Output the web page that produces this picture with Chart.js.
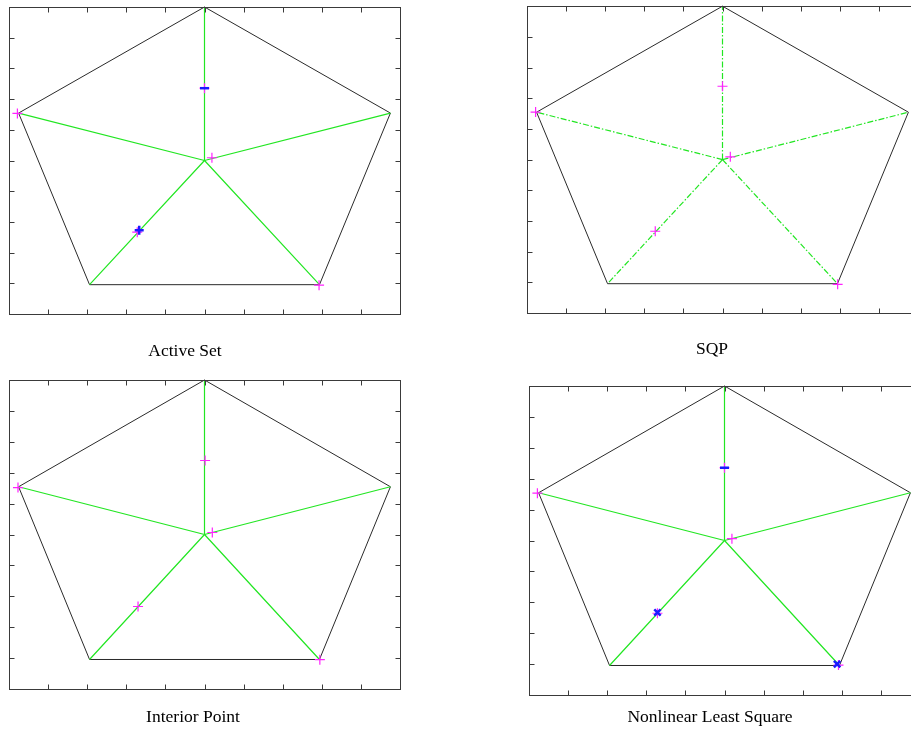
<!DOCTYPE html>
<html>
<head>
<meta charset="utf-8">
<script src="https://cdn.jsdelivr.net/npm/chart.js@4/dist/chart.umd.min.js"></script>
<style>
  html, body { margin: 0; padding: 0; background: #fff; width: 911px; height: 731px; overflow: hidden; }
  .panel { position: absolute; left: 0; top: 0; }
  .cap { position: absolute; font-family: "Liberation Serif", "Times New Roman", serif; font-size: 17.5px; color: #000; transform: translate(-50%, -50%); white-space: nowrap; }
</style>
</head>
<body>
<canvas id="c0" class="panel" width="930" height="740"></canvas>
<canvas id="c1" class="panel" width="930" height="740"></canvas>
<canvas id="c2" class="panel" width="930" height="740"></canvas>
<canvas id="c3" class="panel" width="930" height="740"></canvas>
<div class="cap" style="left:185px; top:350px;">Active Set</div>
<div class="cap" style="left:712px; top:348px;">SQP</div>
<div class="cap" style="left:193px; top:716px;">Interior Point</div>
<div class="cap" style="left:710px; top:716px;">Nonlinear Least Square</div>
<script>
// tick positions on every side of each box (no labels)
const tickValues = [-0.8, -0.6, -0.4, -0.2, 0, 0.2, 0.4, 0.6, 0.8];

// regular pentagon (closed) and its centre
const pentagonX = [0, 0.951, 0.588, -0.588, -0.951, 0];
const pentagonY = [1, 0.309, -0.809, -0.809, 0.309, 1];
const centreX = 0, centreY = 0;

// magenta "+" points per method
const activeSetX = [0, -0.957, 0.038, -0.344, 0.586];
const activeSetY = [0.471, 0.307, 0.018, -0.467, -0.812];
const sqpX = [0, -0.956, 0.040, -0.344, 0.589];
const sqpY = [0.478, 0.310, 0.018, -0.467, -0.813];
const interiorX = [0.003, -0.954, 0.040, -0.340, 0.590];
const interiorY = [0.479, 0.304, 0.013, -0.466, -0.810];
const nlsqX = [0, -0.957, 0.038, -0.343, 0.583];
const nlsqY = [0.471, 0.306, 0.012, -0.471, -0.806];

// blue points per method
const activeSetBlueX = [0, -0.334];
const activeSetBlueY = [0.471, -0.454];
const activeSetBlueStyle = ['line', 'cross'];
const nlsqBlueX = [0, -0.343, 0.576];
const nlsqBlueY = [0.471, -0.466, -0.800];
const nlsqBlueStyle = ['line', 'crossRot', 'crossRot'];

function toPoints(xs, ys) { return xs.map((x, i) => ({ x: x, y: ys[i] })); }

function spokePoints() {
  const pts = [];
  for (let i = 0; i < 5; i++) {
    pts.push({ x: centreX, y: centreY });
    pts.push({ x: pentagonX[i], y: pentagonY[i] });
    pts.push({ x: null, y: null });
  }
  return pts;
}

// box with inward ticks on all four sides
const boxTicks = {
  id: 'boxTicks',
  afterDraw(chart) {
    const { ctx, chartArea: a, scales } = chart;
    const len = 5;
    ctx.save();
    ctx.strokeStyle = '#3a3a3a';
    ctx.lineWidth = 1;
    const L = Math.round(a.left) + 0.5, R = Math.round(a.right) + 0.5;
    const T = Math.round(a.top) + 0.5, B = Math.round(a.bottom) + 0.5;
    ctx.strokeRect(L, T, R - L, B - T);
    ctx.beginPath();
    tickValues.forEach(v => {
      const px = Math.round(scales.x.getPixelForValue(v)) + 0.5;
      ctx.moveTo(px, B); ctx.lineTo(px, B - len);
      ctx.moveTo(px, T); ctx.lineTo(px, T + len);
      const py = Math.round(scales.y.getPixelForValue(v)) + 0.5;
      ctx.moveTo(L, py); ctx.lineTo(L + len, py);
      ctx.moveTo(R, py); ctx.lineTo(R - len, py);
    });
    ctx.stroke();
    ctx.restore();
  }
};

function makePanel(id, box, mx, my, bx, by, bstyle, dashed) {
  const datasets = [];
  if (bx) {
    datasets.push({
      data: toPoints(bx, by), showLine: false,
      pointStyle: bstyle, pointRadius: 4.5, pointBorderWidth: 2.5,
      pointBorderColor: '#1a1aff', pointBackgroundColor: '#1a1aff'
    });
  }
  datasets.push({
    data: toPoints(mx, my), showLine: false,
    pointStyle: 'cross', pointRadius: 5, pointBorderWidth: 1.2,
    pointBorderColor: '#ff22ff', pointBackgroundColor: '#ff22ff'
  });
  datasets.push({
    data: spokePoints(), showLine: true, spanGaps: false, pointRadius: 0,
    borderColor: '#22e622', borderWidth: 1.2, borderDash: dashed ? [6, 2, 1.5, 2] : [],
    clip: false
  });
  datasets.push({
    data: toPoints(pentagonX, pentagonY), showLine: true, pointRadius: 0,
    borderColor: '#2a2a2a', borderWidth: 1, clip: false
  });

  new Chart(document.getElementById(id), {
    type: 'scatter',
    data: { datasets: datasets },
    options: {
      responsive: false,
      animation: false,
      devicePixelRatio: 1,
      layout: { padding: { left: box[0], top: box[1], right: 930 - box[2], bottom: 740 - box[3] } },
      scales: {
        x: { type: 'linear', min: -1, max: 1, display: false },
        y: { type: 'linear', min: -1, max: 1, display: false }
      },
      plugins: { legend: { display: false }, tooltip: { enabled: false }, title: { display: false } },
      elements: { line: { tension: 0 } }
    },
    plugins: [boxTicks]
  });
}

makePanel('c0', [9, 5, 400, 314], activeSetX, activeSetY, activeSetBlueX, activeSetBlueY, activeSetBlueStyle, false);
makePanel('c1', [527, 3, 918, 313], sqpX, sqpY, null, null, null, true);
makePanel('c2', [9, 380, 400, 689], interiorX, interiorY, null, null, null, false);
makePanel('c3', [529, 386, 920, 695], nlsqX, nlsqY, nlsqBlueX, nlsqBlueY, nlsqBlueStyle, false);
</script>
</body>
</html>
